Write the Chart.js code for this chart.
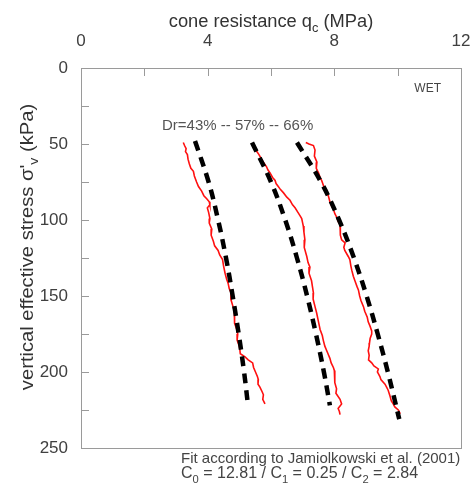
<!DOCTYPE html>
<html>
<head>
<meta charset="utf-8">
<script src="https://cdn.jsdelivr.net/npm/chart.js@4.4.1/dist/chart.umd.min.js"></script>
<style>
  body { margin: 0; background: #fff; }
  canvas { display: block; }
</style>
</head>
<body>
<canvas id="myChart" width="472" height="484"></canvas>
<script>
// measured profiles (red) - vertical effective stress (kPa) and cone resistance (MPa)
const stressWet1 = [49, 51, 53, 55, 57, 60, 63, 66, 68, 71, 75, 78, 81, 84, 86, 88, 90, 92, 95, 99, 102, 106, 110, 114, 117, 120, 123, 126, 130, 135, 139, 142, 145, 148, 152, 157, 160, 164, 168, 172, 175, 179, 183, 186, 188, 190, 192, 194, 197, 201, 203, 205, 208, 210, 213, 215, 218, 221];
const qcWet1 = [3.23, 3.27, 3.32, 3.30, 3.36, 3.38, 3.42, 3.47, 3.55, 3.58, 3.65, 3.71, 3.81, 3.88, 3.97, 4.05, 4.07, 3.99, 4.03, 4.07, 4.05, 4.13, 4.11, 4.18, 4.22, 4.33, 4.38, 4.47, 4.50, 4.55, 4.60, 4.65, 4.68, 4.74, 4.73, 4.80, 4.84, 4.86, 4.84, 4.92, 4.95, 4.93, 5.00, 5.02, 5.03, 5.18, 5.28, 5.42, 5.45, 5.53, 5.57, 5.60, 5.59, 5.65, 5.72, 5.76, 5.74, 5.81];

const stressWet2 = [50, 52, 54, 57, 60, 62, 65, 67, 69, 72, 74, 76, 78, 80, 82, 85, 87, 90, 92, 95, 97, 99, 102, 104, 108, 113, 118, 124, 128, 131, 135, 140, 144, 148, 152, 157, 161, 166, 170, 172, 176, 179, 183, 186, 188, 191, 194, 197, 199, 203, 207, 211, 214, 218, 221, 224, 226, 228];
const qcWet2 = [5.45, 5.49, 5.52, 5.62, 5.70, 5.76, 5.86, 5.90, 5.97, 6.05, 6.13, 6.16, 6.23, 6.30, 6.39, 6.50, 6.60, 6.68, 6.76, 6.85, 6.91, 6.97, 7.00, 7.02, 7.04, 7.07, 7.05, 7.13, 7.17, 7.23, 7.20, 7.28, 7.31, 7.34, 7.33, 7.39, 7.44, 7.49, 7.53, 7.55, 7.62, 7.65, 7.70, 7.76, 7.80, 7.86, 7.90, 7.97, 8.00, 8.02, 8.01, 8.07, 8.05, 8.18, 8.23, 8.12, 8.16, 8.18];

const stressWet3 = [49, 50, 51, 54, 58, 62, 66, 69, 72, 74, 77, 80, 84, 88, 91, 93, 96, 98, 101, 103, 106, 110, 113, 115, 118, 120, 124, 126, 130, 133, 137, 140, 144, 146, 150, 153, 157, 160, 164, 167, 170, 173, 175, 178, 181, 183, 186, 189, 192, 194, 196, 198, 200, 203, 205, 208, 210, 212, 216, 219, 221, 223, 225, 227, 229];
const qcWet3 = [7.10, 7.20, 7.34, 7.39, 7.37, 7.45, 7.43, 7.50, 7.55, 7.60, 7.65, 7.70, 7.81, 7.86, 7.92, 7.97, 8.02, 8.07, 8.12, 8.18, 8.20, 8.18, 8.23, 8.34, 8.30, 8.33, 8.44, 8.49, 8.52, 8.55, 8.60, 8.65, 8.72, 8.76, 8.80, 8.84, 8.92, 8.96, 9.04, 9.07, 9.13, 9.18, 9.18, 9.13, 9.11, 9.10, 9.07, 9.10, 9.08, 9.18, 9.25, 9.39, 9.36, 9.44, 9.47, 9.60, 9.65, 9.70, 9.76, 9.80, 9.86, 9.91, 10.02, 10.07, 9.97];

// fitted curves (black dashed), Dr = 43 / 57 / 66 %
const fitStress1 = [48, 75, 100, 125, 150, 175, 200, 223];
const fitQc1 = [3.60, 4.03, 4.33, 4.58, 4.79, 4.98, 5.15, 5.28];
const fitStress2 = [49, 75, 100, 125, 150, 175, 200, 222];
const fitQc2 = [5.40, 6.00, 6.45, 6.82, 7.14, 7.42, 7.67, 7.86];
const fitStress3 = [49, 75, 100, 125, 150, 175, 200, 231];
const fitQc3 = [6.82, 7.58, 8.15, 8.62, 9.02, 9.37, 9.69, 10.05];

const xTickLabels = [0, 4, 8, 12];
const yTickLabels = [0, 50, 100, 150, 200, 250];

const FONT = '"Liberation Sans", Arial, sans-serif';

function toPoints(stress, qc) {
    return stress.map((s, i) => ({ x: qc[i], y: s }));
}

function fitSet(stress, qc) {
    return {
        data: toPoints(stress, qc),
        showLine: true,
        borderColor: '#000',
        borderWidth: 4.5,
        borderDash: [10, 7],
        pointRadius: 0,
        tension: 0.4
    };
}

function measuredSet(stress, qc) {
    return {
        data: toPoints(stress, qc),
        showLine: true,
        borderColor: '#ff1010',
        borderWidth: 1.6,
        pointRadius: 0,
        tension: 0
    };
}

// draws a string made of pieces, some of them subscripts
function richText(ctx, parts, x, y, size, align) {
    let total = 0;
    const widths = parts.map(p => {
        ctx.font = (p.sub ? size * 0.7 : size) + 'px ' + FONT;
        const w = ctx.measureText(p.t).width;
        total += w;
        return w;
    });
    let cx = align === 'center' ? x - total / 2 : (align === 'right' ? x - total : x);
    ctx.textAlign = 'left';
    ctx.textBaseline = 'alphabetic';
    parts.forEach((p, i) => {
        ctx.font = (p.sub ? size * 0.7 : size) + 'px ' + FONT;
        ctx.fillText(p.t, cx, p.sub ? y + size * 0.3 : y);
        cx += widths[i];
    });
    return total;
}

const framePlugin = {
    id: 'frame',
    beforeDatasetsDraw(chart) {
        const { ctx, chartArea: a, scales } = chart;
        ctx.save();
        ctx.strokeStyle = '#9a9a9a';
        ctx.lineWidth = 1;
        ctx.strokeRect(a.left + 0.5, a.top + 0.5, a.right - a.left, a.bottom - a.top);
        ctx.beginPath();
        scales.x.ticks.forEach(t => {
            const px = Math.round(scales.x.getPixelForValue(t.value)) + 0.5;
            ctx.moveTo(px, a.top);
            ctx.lineTo(px, a.top + 8);
        });
        scales.y.ticks.forEach(t => {
            const py = Math.round(scales.y.getPixelForValue(t.value)) + 0.5;
            ctx.moveTo(a.left, py);
            ctx.lineTo(a.left + 8, py);
        });
        ctx.stroke();
        ctx.restore();
    },
    afterDraw(chart) {
        const { ctx, chartArea: a } = chart;
        ctx.save();
        ctx.fillStyle = '#333';
        richText(ctx, [{ t: 'cone resistance q' }, { t: 'c', sub: true }, { t: ' (MPa)' }],
            (a.left + a.right) / 2, 27, 18.3, 'center');

        // y title, stretched a little along its length like the source
        ctx.save();
        ctx.translate(33, 247);
        ctx.rotate(-Math.PI / 2);
        ctx.scale(1.12, 1);
        richText(ctx, [{ t: "vertical effective stress σ'" }, { t: 'v', sub: true }, { t: ' (kPa)' }],
            0, 0, 18, 'center');
        ctx.restore();

        ctx.fillStyle = '#555';
        richText(ctx, [{ t: 'Dr=43% -- 57% -- 66%' }], 162, 130, 15, 'left');
        ctx.fillStyle = '#444';
        richText(ctx, [{ t: 'WET' }], 441, 92, 12, 'right');

        ctx.fillStyle = '#444';
        richText(ctx, [{ t: 'Fit according to Jamiolkowski et al. (2001)' }], 181, 463, 15, 'left');
        richText(ctx, [{ t: 'C' }, { t: '0', sub: true }, { t: ' = 12.81 / C' }, { t: '1', sub: true },
            { t: ' = 0.25 / C' }, { t: '2', sub: true }, { t: ' = 2.84' }], 181, 478, 16, 'left');
        ctx.restore();
    }
};

const ctx = document.getElementById('myChart').getContext('2d');

const chart = new Chart(ctx, {
    type: 'scatter',
    data: {
        datasets: [
            fitSet(fitStress1, fitQc1),
            fitSet(fitStress2, fitQc2),
            fitSet(fitStress3, fitQc3),
            measuredSet(stressWet1, qcWet1),
            measuredSet(stressWet2, qcWet2),
            measuredSet(stressWet3, qcWet3)
        ]
    },
    options: {
        responsive: false,
        animation: false,
        layout: { padding: { left: 0, top: 0, right: 11, bottom: 36 } },
        plugins: {
            legend: { display: false },
            tooltip: { enabled: false }
        },
        scales: {
            x: {
                type: 'linear',
                position: 'top',
                min: 0,
                max: 12,
                grid: { display: false, drawTicks: false },
                border: { display: false },
                ticks: {
                    stepSize: 2,
                    autoSkip: false,
                    maxRotation: 0,
                    padding: 16,
                    color: '#404040',
                    font: { family: FONT, size: 17 },
                    callback: v => xTickLabels.includes(v) ? String(v) : ''
                },
                afterFit: s => {
                    s.height = 68;
                    s.paddingLeft = 0;
                    s.paddingRight = 0;
                }
            },
            y: {
                type: 'linear',
                reverse: true,
                min: 0,
                max: 250,
                grid: { display: false, drawTicks: false },
                border: { display: false },
                ticks: {
                    stepSize: 25,
                    autoSkip: false,
                    padding: 13,
                    color: '#404040',
                    font: { family: FONT, size: 17 },
                    callback: v => yTickLabels.includes(v) ? String(v) : ''
                },
                afterFit: s => {
                    s.width = 81;
                    s.paddingTop = 0;
                    s.paddingBottom = 0;
                }
            }
        }
    },
    plugins: [framePlugin]
});
</script>
</body>
</html>
